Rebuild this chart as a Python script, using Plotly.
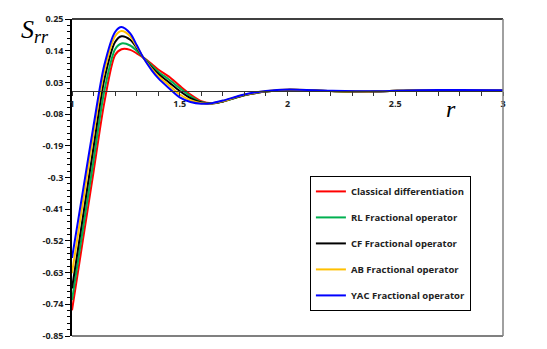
import plotly.graph_objects as go

# radial coordinate
r = [1.0, 1.05, 1.1, 1.15, 1.2, 1.23, 1.27, 1.3, 1.33, 1.37, 1.4, 1.45, 1.5, 1.55,
     1.6, 1.65, 1.7, 1.8, 1.9, 2.0, 2.2, 2.4, 2.6, 2.8, 3.0]

# S_rr for each model
classical = [-0.761, -0.52, -0.28, -0.04, 0.125, 0.145, 0.143, 0.131, 0.117, 0.094, 0.075,
             0.050, 0.018, -0.012, -0.035, -0.042, -0.036, -0.015, -0.002, 0.004, 0.000,
             -0.002, 0.003, 0.004, 0.003]
rl = [-0.725, -0.483, -0.242, 0.0, 0.145, 0.165, 0.158, 0.140, 0.117, 0.088, 0.067,
      0.040, 0.010, -0.018, -0.038, -0.043, -0.036, -0.015, -0.002, 0.004, 0.000,
      -0.002, 0.003, 0.004, 0.003]
cf = [-0.685, -0.44, -0.195, 0.04, 0.17, 0.19, 0.178, 0.150, 0.117, 0.082, 0.060,
      0.030, 0.000, -0.025, -0.040, -0.043, -0.036, -0.014, -0.002, 0.004, 0.000,
      -0.002, 0.003, 0.004, 0.003]
ab = [-0.632, -0.389, -0.146, 0.07, 0.19, 0.208, 0.19, 0.155, 0.117, 0.077, 0.052,
      0.020, -0.012, -0.032, -0.042, -0.043, -0.035, -0.013, -0.001, 0.005, 0.000,
      -0.002, 0.003, 0.004, 0.003]
yac = [-0.579, -0.35, -0.12, 0.09, 0.205, 0.222, 0.200, 0.160, 0.117, 0.072, 0.045,
       0.010, -0.022, -0.038, -0.044, -0.042, -0.033, -0.012, 0.000, 0.005, 0.001,
       -0.001, 0.003, 0.004, 0.003]

names = ["Classical differentiation", "RL Fractional operator", "CF Fractional operator",
         "AB Fractional operator", "YAC Fractional operator"]
colors = ["#FF0000", "#00B050", "#000000", "#FFC000", "#0000FF"]

ytick_vals = [0.25, 0.14, 0.03, -0.08, -0.19, -0.3, -0.41, -0.52, -0.63, -0.74, -0.85]
xtick_vals = [1, 1.5, 2, 2.5, 3]

fig = go.Figure()
for name, col, ys in zip(names, colors, [classical, rl, cf, ab, yac]):
    fig.add_trace(go.Scatter(x=r, y=ys, mode="lines", name=name, legendgroup=name,
                             line=dict(color=col, width=2, shape="spline", smoothing=0.8)))

# zero line position in paper coords
y0 = (0 - (-0.85)) / (0.25 - (-0.85))

tickfont = dict(family="Open Sans", size=9, color="#222222", weight="bold")

# page body adds an 8px margin, so the figure is 8px smaller and margins shifted
fig.update_layout(
    width=539, height=341,
    margin=dict(l=64, r=44, t=11, b=13),
    plot_bgcolor="white", paper_bgcolor="white",
    showlegend=True,
    xaxis=dict(range=[1, 3], anchor="free", position=y0, showgrid=False, zeroline=False,
               automargin=False,
               showline=True, linecolor="#333333", linewidth=1,
               tickvals=xtick_vals, ticktext=["1", "1.5", "2", "2.5", "3"],
               ticks="outside", ticklen=4, tickcolor="#333333", tickfont=tickfont,
               minor=dict(dtick=0.1, ticks="outside", ticklen=4, tickcolor="#333333")),
    xaxis2=dict(range=[1, 3], overlaying="x", anchor="free", position=y0, showgrid=False,
                zeroline=False, showline=False, showticklabels=False, automargin=False,
                tickvals=xtick_vals, ticks="inside", ticklen=4, tickcolor="#333333",
                minor=dict(dtick=0.1, ticks="inside", ticklen=4, tickcolor="#333333")),
    yaxis=dict(range=[-0.85, 0.25], showgrid=False, zeroline=False, automargin=False,
               showline=True, linecolor="black", linewidth=1.5,
               tickvals=ytick_vals, ticktext=["0.25", "0.14", "0.03", "-0.08", "-0.19", "-0.3",
                                              "-0.41", "-0.52", "-0.63", "-0.74", "-0.85"],
               ticks="outside", ticklen=5, tickcolor="black", tickfont=tickfont,
               minor=dict(dtick=0.022, tick0=0.25, ticks="outside", ticklen=3, tickcolor="black")),
    legend=dict(x=0.552, y=0.505, xanchor="left", yanchor="top",
                bordercolor="black", borderwidth=1, bgcolor="white",
                tracegroupgap=7, itemwidth=30,
                font=dict(family="Open Sans", size=9.5, color="#222222", weight="bold")),
    shapes=[
        dict(type="line", xref="paper", yref="paper", x0=0, x1=1, y0=1, y1=1,
             line=dict(color="black", width=1.5)),
        dict(type="line", xref="paper", yref="paper", x0=1, x1=1, y0=0, y1=1,
             line=dict(color="#808080", width=1.5)),
        dict(type="line", xref="paper", yref="paper", x0=0, x1=1, y0=0, y1=0,
             line=dict(color="#808080", width=2)),
    ],
    annotations=[
        dict(text="<i>S<sub>rr</sub></i>", xref="paper", yref="paper", x=-0.085, y=0.962,
             xanchor="center", yanchor="middle", showarrow=False,
             font=dict(family="Liberation Serif", size=26, color="black")),
        dict(text="<i>r</i>", xref="paper", yref="paper", x=0.88, y=0.715,
             xanchor="center", yanchor="middle", showarrow=False,
             font=dict(family="Liberation Serif", size=24, color="black")),
    ],
)

fig.write_html("out.html")
